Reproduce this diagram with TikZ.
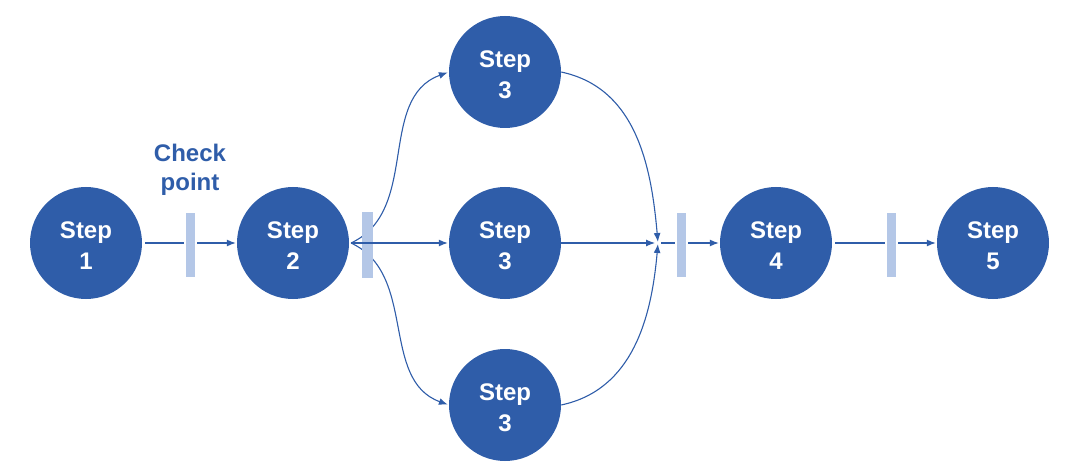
\documentclass[tikz,border=0pt]{standalone}
\usepackage{fontspec}
\setmainfont{Liberation Sans}
\usetikzlibrary{arrows.meta}
\definecolor{stepblue}{HTML}{2F5DA9}
\definecolor{barblue}{HTML}{B4C7E7}
\tikzset{
	stepnode/.style={circle,fill=stepblue,inner sep=0pt,minimum size=112pt},
	steptext/.style={text=white,align=center,yshift=-3pt,
		font=\bfseries\fontsize{24}{31}\selectfont},
	checkbar/.style={rectangle,fill=barblue,inner sep=0pt,minimum width=11pt,minimum height=66pt},
	gapbar/.style={checkbar,draw=white,line width=2pt},
	flow/.style={stepblue,line width=1.1pt,shorten >=1pt,-{Latex[length=9pt,width=7pt]}}
}
\begin{document}
\begin{tikzpicture}[x=1pt,y=1pt]
	\useasboundingbox (0,0) rectangle (1080,-476);
	
	\node[stepnode,label={[steptext]center:Step\\1}] (one)  at (86,-243)  {};
	\node[stepnode,label={[steptext]center:Step\\2}] (two)  at (293,-243) {};
	\node[stepnode,label={[steptext]center:Step\\3}] (thrA) at (505,-72)  {};
	\node[stepnode,label={[steptext]center:Step\\3}] (thrB) at (505,-243) {};
	\node[stepnode,label={[steptext]center:Step\\3}] (thrC) at (505,-405) {};
	\node[stepnode,label={[steptext]center:Step\\4}] (four) at (776,-243) {};
	\node[stepnode,label={[steptext]center:Step\\5}] (five) at (993,-243) {};
	
	\coordinate (Split) at (351,-243); % fork after step 2
	\coordinate (Join)  at (658,-243); % all three step 3 meet here
	
	\node[text=stepblue,align=center,font=\bfseries\fontsize{24}{29}\selectfont]
		(check) at (190,-170) {Check\\point};
	
	% straight links
	\draw[flow,shorten <=3pt] (one) -- (two);
	\draw[flow,shorten <=3pt] (four) -- (five);
	
	% fork into the three parallel steps
	\draw[flow] (Split) to[out=25,in=200] (thrA.west);
	\draw[flow] (Split) to[out=-25,in=160] (thrC.west);
	\node[checkbar] (barB) at (367,-245) {};
	\draw[flow] (Split) -- (thrB.west);
	
	% and back together
	\draw[flow] (thrA.east) to[out=-12,in=95] (Join);
	\draw[flow] (thrC.east) to[out=12,in=-95] (Join);
	\draw[flow] (thrB.east) -- ([xshift=-2pt]Join);
	\draw[flow] ([xshift=3pt]Join) -- (four);
	
	% check points that cut the line
	\foreach \name/\x in {barA/190,barC/681,barD/891}{
		\node[gapbar] (\name) at (\x,-245) {};
	}
\end{tikzpicture}
\end{document}
